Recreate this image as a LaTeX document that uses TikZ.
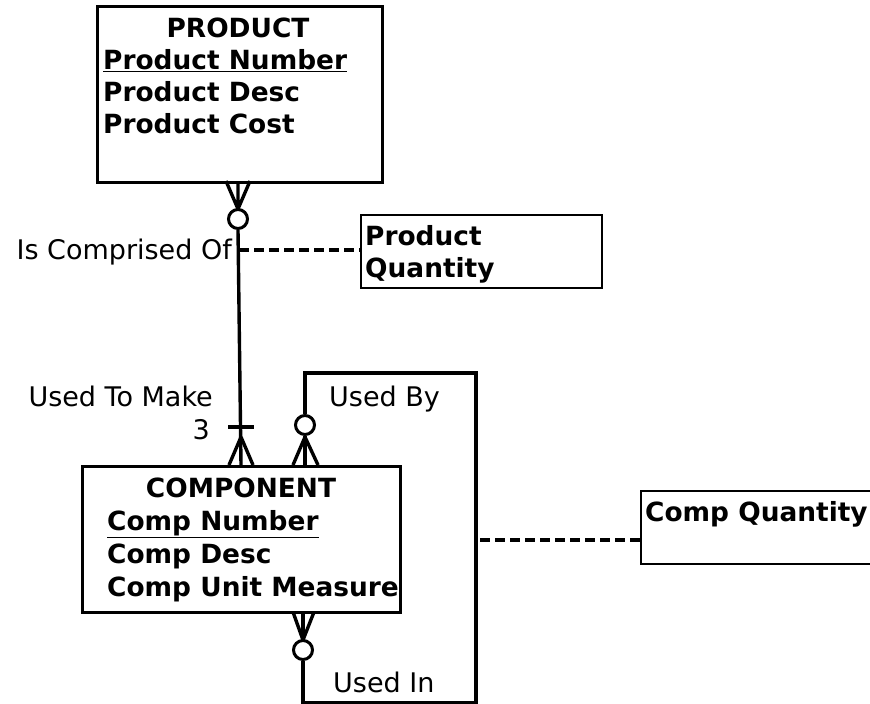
\documentclass[tikz,border=0pt]{standalone}
\usepackage{fontspec}
\setmainfont{DejaVu Sans}
\begin{document}
\begin{tikzpicture}[x=1pt,y=-1pt,
  entity/.style={draw, line width=3.4pt, inner sep=0, anchor=north west},
  attrbox/.style={draw, line width=1.6pt, inner sep=0, anchor=north west},
  rel/.style={line width=3.4pt},
  dashrel/.style={line width=3.4pt, dash pattern=on 10pt off 5pt},
  ring/.style={circle, draw, line width=3pt, minimum size=19pt, inner sep=0, fill=white},
  lbl/.style={font=\fontsize{27}{32}\selectfont, inner sep=0},
  battr/.style={font=\bfseries\fontsize{26.4}{32}\selectfont, inner sep=0, anchor=base west},
  btitle/.style={font=\bfseries\fontsize{26.4}{32}\selectfont, inner sep=0, anchor=base}]
\useasboundingbox (0,0) rectangle (870,704);

% PRODUCT entity
\node[entity, minimum width=285pt, minimum height=176pt] (prod) at (96,5) {};
\node[btitle] (prodt) at (238,37) {PRODUCT};
\node[battr] (pa1) at (103,69) {\underline{Product Number}};
\node[battr] (pa2) at (103,101) {Product Desc};
\node[battr] (pa3) at (103,133) {Product Cost};

% COMPONENT entity
\node[entity, minimum width=318pt, minimum height=146pt] (comp) at (81,465) {};
\node[btitle] (compt) at (241,497) {COMPONENT};
\node[battr] (ca1) at (107,530) {\underline{Comp Number}};
\node[battr] (ca2) at (107,563) {Comp Desc};
\node[battr] (ca3) at (107,596) {Comp Unit Measure};

% associative attribute boxes
\node[attrbox, minimum width=241pt, minimum height=73pt] (pq) at (360,214) {};
\node[battr] (pqt1) at (365,245) {Product};
\node[battr] (pqt2) at (365,277) {Quantity};
\node[attrbox, minimum width=232pt, minimum height=73pt] (cq) at (640,490) {};
\node[battr] (cqt) at (645,521) {Comp Quantity};

% Product -- Component relationship
\coordinate (pfa) at (238,209);
\node[ring] (c1) at (238,219) {};
\draw[rel] (pfa) -- (226,181) (pfa) -- (238,181) (pfa) -- (250,181);
\coordinate (cfa) at (241,437);
\coordinate (ctop) at (241,465);
\draw[rel] (c1.south) -- (ctop);
\draw[rel] (cfa) -- (229,465) (cfa) -- (253,465);
\draw[rel] (228,427) -- (254,427);
\coordinate (dj1) at (239,250);
\draw[dashrel] (dj1) -- (pq.west |- dj1);
\node[lbl, anchor=base east] (l1) at (232,259) {Is Comprised Of};
\node[lbl, anchor=base east] (l2) at (213,406) {Used To Make};
\node[lbl, anchor=base east] (l3) at (210,439) {3};

% recursive relationship
\node[ring] (c2) at (305,425) {};
\coordinate (ufa) at (305,437);
\draw[rel] (c2.south) -- (305,465);
\draw[rel] (ufa) -- (293,465) (ufa) -- (318,465);
\node[ring] (c3) at (303,650) {};
\coordinate (dfa) at (303,640);
\draw[rel] (c3.north) -- (303,612);
\draw[rel] (dfa) -- (293,612) (dfa) -- (314,612);
\draw[rel] (c2.north) -- (305,373) -- (476,373) -- (476,703) -- (303,703) -- (c3.south);
\node[lbl, anchor=base west] (l4) at (329,406) {Used By};
\node[lbl, anchor=base west] (l5) at (333,692) {Used In};
\coordinate (dj2) at (480,540);
\draw[dashrel] (dj2) -- (cq.west |- dj2);
\end{tikzpicture}
\end{document}
